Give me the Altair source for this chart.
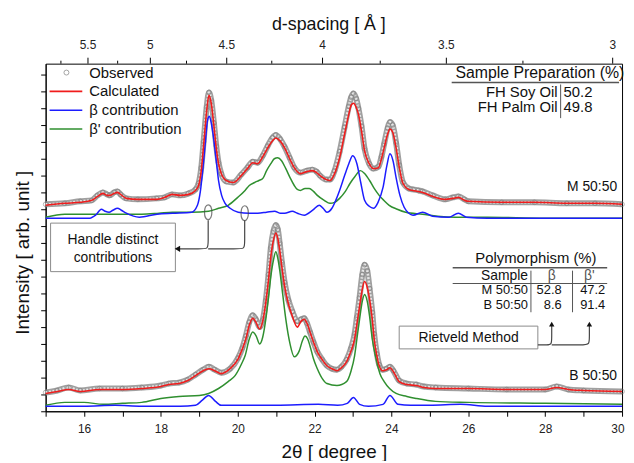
import math
import altair as alt
import pandas as pd

FONT = "Liberation Sans"

# ---------------- M 50:50 (upper pattern) ----------------
m_theta = [15.0, 15.5, 15.9, 16.2, 16.35, 16.49, 16.6, 16.67, 16.78, 16.87, 16.95, 17.1, 17.4, 17.88,
           18.1, 18.29, 18.5, 18.72, 18.9, 18.98, 19.05, 19.11, 19.19, 19.25, 19.31, 19.38, 19.44, 19.5,
           19.57, 19.7, 19.88, 20.09, 20.25, 20.39, 20.52, 20.65, 20.78, 20.9, 20.99, 21.1, 21.22, 21.35,
           21.47, 21.63, 21.8, 21.94, 22.05, 22.14, 22.3, 22.4, 22.52, 22.65, 22.78, 22.89, 22.95, 23.01,
           23.08, 23.14, 23.22, 23.3, 23.42, 23.53, 23.66, 23.74, 23.81, 23.9, 23.96, 24.03, 24.12, 24.2,
           24.3, 24.45, 24.56, 24.7, 24.81, 25.07, 25.4, 25.6, 25.74, 25.9, 26.0, 26.87, 27.72, 28.56,
           29.3, 30.0]
m_calc = [208, 210, 211, 213, 217, 220, 218, 218, 220, 221, 219, 215, 214, 214,
          216, 219, 218, 219, 223, 228, 243, 268, 303, 319, 311, 288, 266, 250,
          240, 233, 231, 238, 245, 251, 250, 257, 266, 273, 276, 273, 266, 255,
          246, 240, 242, 243, 241, 238, 234, 233, 240, 256, 280, 300, 309, 311,
          307, 300, 283, 263, 250, 245, 246, 255, 266, 280, 285, 282, 266, 247,
          230, 224, 223, 222, 221, 217, 214, 215, 216, 213, 212, 211, 211, 210,
          210, 209]
m_obs = [209, 210, 212, 213, 218, 221, 219, 218, 221, 222, 219, 215, 214, 215,
         216, 219, 218, 220, 224, 230, 246, 272, 307, 322, 314, 291, 268, 251,
         240, 232, 231, 239, 246, 252, 251, 258, 268, 276, 279, 275, 267, 256,
         246, 241, 243, 244, 242, 238, 234, 234, 243, 262, 287, 308, 317, 321,
         316, 306, 288, 265, 250, 245, 247, 257, 270, 286, 292, 289, 271, 249,
         231, 225, 224, 223, 222, 218, 214, 216, 217, 214, 212, 211, 211, 210,
         210, 209]
m_beta_theta = [15.0, 16.15, 16.3, 16.45, 16.55, 16.65, 16.75, 16.87, 16.97, 17.1, 17.44, 17.9, 18.3,
                18.8, 18.95, 19.03, 19.1, 19.16, 19.21, 19.26, 19.31, 19.37, 19.44, 19.5, 19.58, 19.67,
                19.8, 20.01, 20.3, 20.52, 20.75, 20.96, 21.1, 21.22, 21.42, 21.55, 21.73, 21.95, 22.12,
                22.22, 22.32, 22.45, 22.55, 22.65, 22.78, 22.89, 22.99, 23.1, 23.2, 23.3, 23.42, 23.53,
                23.65, 23.78, 23.88, 23.96, 24.04, 24.12, 24.22, 24.33, 24.45, 24.56, 24.81, 25.07,
                25.5, 25.74, 25.95, 26.5, 28.0, 30.0]
m_beta = [195, 195, 198, 204, 202, 201, 203, 205, 203, 200, 196, 199, 200,
          201, 208, 223, 248, 273, 293, 298, 291, 276, 253, 233, 218, 210,
          205, 201, 200, 200, 201, 202, 200, 200, 202, 200, 198, 203, 208,
          205, 201, 205, 213, 223, 238, 250, 258, 250, 231, 213, 207, 205,
          211, 226, 248, 260, 253, 236, 218, 206, 200, 198, 201, 197,
          196, 200, 196, 195, 195, 195]
m_betap_theta = [15.0, 15.5, 16.5, 17.5, 17.95, 18.3, 18.8, 19.24, 19.5, 19.75, 20.0, 20.19, 20.3,
                 20.44, 20.55, 20.65, 20.75, 20.86, 20.95, 21.04, 21.14, 21.25, 21.36, 21.47, 21.55,
                 21.63, 21.75, 21.86, 21.97, 22.07, 22.25, 22.4, 22.52, 22.65, 22.8, 22.92, 23.05,
                 23.19, 23.3, 23.43, 23.55, 23.68, 23.8, 23.94, 24.15, 24.37, 24.81, 25.2, 25.66,
                 26.5, 28.0, 30.0]
m_betap = [196, 199, 199, 199, 200, 201, 201, 202, 205, 208, 216, 223, 228,
           231, 233, 235, 243, 250, 255, 256, 253, 245, 236, 228, 224,
           223, 225, 225, 222, 218, 213, 210, 211, 215, 222, 230, 237,
           243, 240, 233, 225, 218, 213, 208, 204, 201, 199, 197, 196,
           196, 195, 195]

# ---------------- B 50:50 (lower pattern) ----------------
b_theta = [15.0, 15.3, 15.6, 15.9, 16.4, 17.0, 17.5, 18.0, 18.2, 18.47, 18.7, 18.9, 19.1, 19.25,
           19.4, 19.57, 19.8, 20.01, 20.12, 20.21, 20.3, 20.39, 20.47, 20.57, 20.65, 20.73, 20.8,
           20.86, 20.93, 20.99, 21.04, 21.09, 21.15, 21.22, 21.32, 21.42, 21.55, 21.65, 21.73, 21.8,
           21.88, 21.97, 22.07, 22.2, 22.32, 22.45, 22.58, 22.7, 22.83, 22.95, 23.04, 23.1, 23.17,
           23.24, 23.3, 23.37, 23.43, 23.5, 23.55, 23.62, 23.68, 23.77, 23.87, 23.96, 24.05, 24.2,
           24.4, 24.64, 24.85, 25.15, 26.0, 27.0, 28.0, 28.3, 28.6, 29.0, 30.0]
b_calc = [18, 20, 22, 20, 22, 22, 23, 25, 27, 28, 31, 36, 41, 43,
          41, 38, 43, 53, 63, 73, 87, 94, 90, 83, 91, 110, 133,
          156, 173, 180, 175, 163, 145, 126, 108, 96, 85, 91, 93, 89,
          80, 70, 60, 52, 46, 43, 41, 44, 50, 61, 73, 88, 106,
          123, 131, 125, 113, 93, 73, 56, 46, 41, 42, 44, 40, 30,
          27, 26, 24, 23, 23, 22, 22, 24, 22, 21, 20]
b_obs = [19, 21, 24, 21, 23, 23, 24, 26, 28, 29, 32, 37, 42, 45,
         42, 39, 43, 54, 64, 76, 90, 97, 93, 85, 92, 112, 138,
         165, 182, 188, 184, 170, 150, 130, 112, 101, 91, 93, 94, 89,
         80, 70, 60, 52, 46, 43, 42, 45, 52, 64, 78, 95, 115,
         138, 148, 142, 124, 100, 78, 58, 47, 42, 43, 45, 41, 31,
         28, 27, 25, 24, 23, 22, 22, 25, 22, 21, 20]
b_beta_theta = [15.0, 16.0, 16.8, 17.5, 18.5, 18.9, 19.07, 19.24, 19.42, 19.57, 20.0, 21.0, 22.1,
                22.6, 22.85, 23.01, 23.17, 23.4, 23.78, 23.96, 24.17, 24.5, 25.0, 25.8, 26.5, 30.0]
b_beta = [5, 5, 6, 5, 5, 6, 11, 16, 10, 6, 6, 6, 7,
          6, 8, 14, 7, 5, 7, 16, 7, 6, 6, 7, 5, 5]
b_betap_theta = [15.0, 15.5, 16.0, 16.5, 17.0, 17.5, 18.0, 18.47, 19.0, 19.24, 19.5, 19.75, 19.93,
                 20.1, 20.19, 20.3, 20.39, 20.48, 20.57, 20.65, 20.73, 20.8, 20.86, 20.93, 20.99,
                 21.04, 21.09, 21.17, 21.25, 21.36, 21.47, 21.6, 21.68, 21.75, 21.82, 21.88, 21.97,
                 22.07, 22.2, 22.32, 22.58, 22.83, 22.95, 23.04, 23.1, 23.17, 23.24, 23.3, 23.37,
                 23.43, 23.5, 23.6, 23.7, 23.81, 23.95, 24.12, 24.4, 24.64, 25.15, 26.0, 28.0, 30.0]
b_betap = [6, 9, 9, 7, 8, 9, 13, 15, 16, 18, 23, 30, 36,
           48, 56, 73, 80, 76, 68, 75, 93, 115, 136, 153, 161,
           155, 143, 118, 93, 68, 55, 61, 71, 76, 73, 66, 53,
           43, 33, 28, 26, 30, 41, 56, 73, 93, 111, 118, 111,
           96, 73, 53, 38, 30, 23, 18, 15, 13, 10, 9, 8, 7]

# top axis: d-spacing ticks (Angstrom), Cu K-alpha wavelength
wavelength = 1.5406
d_major = [5.5, 5.0, 4.5, 4.0, 3.5, 3.0]
d_major_labels = ["5.5", "5", "4.5", "4", "3.5", "3"]
d_minor = [5.75, 5.25, 4.75, 4.25, 3.75, 3.25]

# annotation anchors (data coordinates)
ell_theta = [19.23, 20.18]
ell_int = [201, 200]

handle_path_theta = [19.23, 19.23, 19.23, 19.03, 18.45, 20.18, 20.18, 20.18, 19.98, 19.23]
handle_path_int = [193, 170, 164, 164, 164, 193, 170, 164, 164, 164]
handle_path_grp = [1, 1, 1, 1, 1, 2, 2, 2, 2, 2]

riet_path_theta = [27.81, 28.05, 28.17, 28.17, 28.17, 28.17, 29.0, 29.15, 29.15, 29.15]
riet_path_int = [67, 67, 67, 76, 87, 67, 67, 67, 76, 87]
riet_path_grp = [1, 1, 1, 1, 1, 2, 2, 2, 2, 2]
arrow_up_theta = [28.17, 29.15]
arrow_up_int = [88, 88]


def series(theta, vals, sample, name):
    rows = list(zip(theta, vals))
    return pd.DataFrame({"theta": [r[0] for r in rows], "intensity": [r[1] for r in rows],
                         "sample": sample, "series": name})


obs_df = pd.concat([series(m_theta, m_obs, "M", "obs"), series(b_theta, b_obs, "B", "obs")])
calc_df = pd.concat([series(m_theta, m_calc, "M", "calc"), series(b_theta, b_calc, "B", "calc")])
beta_df = pd.concat([series(m_beta_theta, m_beta, "M", "b"), series(b_beta_theta, b_beta, "B", "b")])
betap_df = pd.concat([series(m_betap_theta, m_betap, "M", "bp"),
                      series(b_betap_theta, b_betap, "B", "bp")])


def two_theta(d):
    return 2 * math.degrees(math.asin(wavelength / (2 * d)))


top_major = pd.DataFrame({"theta": [two_theta(d) for d in d_major], "label": d_major_labels})
top_minor = pd.DataFrame({"theta": [two_theta(d) for d in d_minor]})

X = alt.X("theta:Q", scale=alt.Scale(domain=[15, 30], nice=False, zero=False),
          axis=alt.Axis(values=list(range(15, 31)),
                        labelExpr="datum.value % 2 == 0 && datum.value > 15 ? datum.label : ''",
                        tickSize=5, labelPadding=7, labelFontSize=12, labelFlush=True,
                        labelFlushOffset=2,
                        labelOverlap=False, title="2θ [ degree ]", titleFontSize=19,
                        titleFontWeight="normal", titlePadding=9, grid=False))
Y = alt.Y("intensity:Q", scale=alt.Scale(domain=[0, 351], nice=False, zero=False),
          axis=alt.Axis(values=[17 * i for i in range(21)], labels=False, tickSize=5,
                        title=None, grid=False))

RED = "#f01c1c"
BLUE = "#1c1cff"
GREEN = "#2f8f2f"
GRAY = "#7d7d7d"

band = alt.Chart(obs_df).mark_line(color="#8f8f8f", strokeWidth=6, interpolate="monotone",
                                   opacity=0.85).encode(x=X, y=Y, detail="sample:N")
band2 = alt.Chart(obs_df).mark_line(color="#e6e6e6", strokeWidth=2.5, interpolate="monotone",
                                    strokeDash=[2, 1.5]).encode(x=X, y=Y, detail="sample:N")
obs_pts = alt.Chart(obs_df).mark_point(shape="circle", size=22, filled=False, color=GRAY,
                                       strokeWidth=0.8).encode(x=X, y=Y)
green = alt.Chart(betap_df).mark_line(color=GREEN, strokeWidth=1.5, interpolate="monotone").encode(
    x=X, y=Y, detail="sample:N")
blue = alt.Chart(beta_df).mark_line(color=BLUE, strokeWidth=1.5, interpolate="monotone").encode(
    x=X, y=Y, detail="sample:N")
red = alt.Chart(calc_df).mark_line(color=RED, strokeWidth=1.6, interpolate="monotone").encode(
    x=X, y=Y, detail="sample:N")

# top axis
top_ticks = alt.Chart(top_major).mark_rule(color="black", strokeWidth=1).encode(
    x=X, y=alt.value(0), y2=alt.value(-6))
top_mticks = alt.Chart(top_minor).mark_rule(color="black", strokeWidth=1).encode(
    x=X, y=alt.value(0), y2=alt.value(-3))
top_labels = alt.Chart(top_major).mark_text(font=FONT, fontSize=12, color="#222",
                                            baseline="middle").encode(
    x=X, y=alt.value(-19), text="label:N")

dummy = pd.DataFrame({"a": [0]})


def label(txt, x, y, size=14, align="left", angle=0, color="#111"):
    kw = dict(align=align, baseline="middle", fontSize=size, font=FONT, color=color, text=txt)
    if angle:
        kw["angle"] = angle
    return alt.Chart(dummy).mark_text(**kw).encode(x=alt.value(x), y=alt.value(y))


def hline(x1, x2, y, color="black", w=1.2):
    return alt.Chart(dummy).mark_rule(color=color, strokeWidth=w).encode(
        x=alt.value(x1), x2=alt.value(x2), y=alt.value(y))


def vline(x, y1, y2, color="black", w=1.2):
    return alt.Chart(dummy).mark_rule(color=color, strokeWidth=w).encode(
        x=alt.value(x), y=alt.value(y1), y2=alt.value(y2))


def box(x1, x2, y1, y2):
    return alt.Chart(dummy).mark_rect(fill="white", stroke="#8a8a8a", strokeWidth=1).encode(
        x=alt.value(x1), x2=alt.value(x2), y=alt.value(y1), y2=alt.value(y2))


# annotations
ell_df = pd.DataFrame({"theta": ell_theta, "intensity": ell_int})
ellipses = alt.Chart(ell_df).mark_point(
    shape="M0,-1 C0.66,-1 0.66,1 0,1 C-0.66,1 -0.66,-1 0,-1 Z", size=225, filled=False,
    color="#444", strokeWidth=1.2).encode(x=X, y=Y)
hp = pd.DataFrame({"theta": handle_path_theta, "intensity": handle_path_int,
                   "grp": handle_path_grp, "idx": list(range(len(handle_path_grp)))})
handle_lines = alt.Chart(hp).mark_line(color="#444", strokeWidth=1.2, interpolate="basis").encode(
    x=X, y=Y, detail="grp:N", order="idx:Q")
handle_arrow = alt.Chart(pd.DataFrame({"theta": [18.43], "intensity": [164]})).mark_point(
    shape="triangle-left", size=40, filled=True, color="#111", opacity=1).encode(x=X, y=Y)
rp = pd.DataFrame({"theta": riet_path_theta, "intensity": riet_path_int,
                   "grp": riet_path_grp, "idx": list(range(len(riet_path_grp)))})
riet_lines = alt.Chart(rp).mark_line(color="#444", strokeWidth=1.2, interpolate="basis").encode(
    x=X, y=Y, detail="grp:N", order="idx:Q")
riet_arrows = alt.Chart(pd.DataFrame({"theta": arrow_up_theta, "intensity": arrow_up_int})).mark_point(
    shape="triangle-up", size=30, filled=True, color="#111", opacity=1).encode(x=X, y=Y)

layers = [band, band2, obs_pts, green, blue, red,
          top_ticks, top_mticks, top_labels,
          label("d-spacing [ Å ]", 286, -39, size=18, align="center"),
          label("Intensity [ arb. unit ]", -23, 191, size=19, align="center", angle=270),
          # legend
          alt.Chart(dummy).mark_point(shape="circle", size=25, filled=False, color=GRAY,
                                      strokeWidth=1).encode(x=alt.value(21), y=alt.value(9)),
          label("Observed", 44, 9, size=15),
          hline(4, 37, 28, RED, 1.6), label("Calculated", 44, 28, size=15),
          hline(4, 37, 47, BLUE, 1.6), label("β contribution", 44, 47, size=15),
          hline(4, 37, 66, GREEN, 1.6), label("β' contribution", 44, 66, size=15),
          # sample labels
          label("M 50:50", 577, 125, size=14, align="right"),
          label("B 50:50", 577, 315, size=14, align="right"),
          # sample preparation table
          label("Sample Preparation (%)", 499, 9, size=16, align="center"),
          hline(410, 579, 19, "#555", 1.5),
          vline(520, 21, 55, "#555", 1),
          label("FH Soy Oil", 517, 29, size=15, align="right"),
          label("50.2", 523, 29, size=15),
          label("FH Palm Oil", 517, 44, size=15, align="right"),
          label("49.8", 523, 44, size=15),
          # polymorphism table
          label("Polymorphism (%)", 495, 196, size=15, align="center"),
          hline(411, 567, 206, "#555", 1.5),
          hline(411, 567, 222, "#555", 1.2),
          vline(490, 209, 251, "#555", 1),
          vline(532, 209, 251, "#555", 1),
          label("Sample", 487, 214, size=14, align="right"),
          label("β", 511, 214, size=14, align="center", color="#555"),
          label("β'", 549, 214, size=14, align="center", color="#555"),
          label("M 50:50", 487, 229, size=13, align="right"),
          label("52.8", 521, 229, size=13, align="right"),
          label("47.2", 565, 229, size=13, align="right"),
          label("B 50:50", 487, 244, size=13, align="right"),
          label("8.6", 521, 244, size=13, align="right"),
          label("91.4", 565, 244, size=13, align="right"),
          # annotation boxes and arrows
          box(5, 131, 161, 210),
          label("Handle distinct", 68, 178, size=14, align="center"),
          label("contributions", 68, 196, size=14, align="center"),
          ellipses, handle_lines, handle_arrow,
          box(357, 497, 265, 288),
          label("Rietveld Method", 427, 277, size=14, align="center"),
          riet_lines, riet_arrows]

chart = alt.layer(*layers).properties(
    width=582, height=351,
    autosize=alt.AutoSizeParams(type="none"),
    padding={"left": 38, "top": 54, "right": 4, "bottom": 48},
).configure_view(stroke="black", strokeWidth=1).configure_axis(
    domainColor="black", tickColor="black", labelColor="#222", labelFont=FONT,
    titleFont=FONT, titleColor="#111", domainWidth=1, tickWidth=1)

chart.save("out.html", embed_options={"renderer": "svg", "actions": False})
